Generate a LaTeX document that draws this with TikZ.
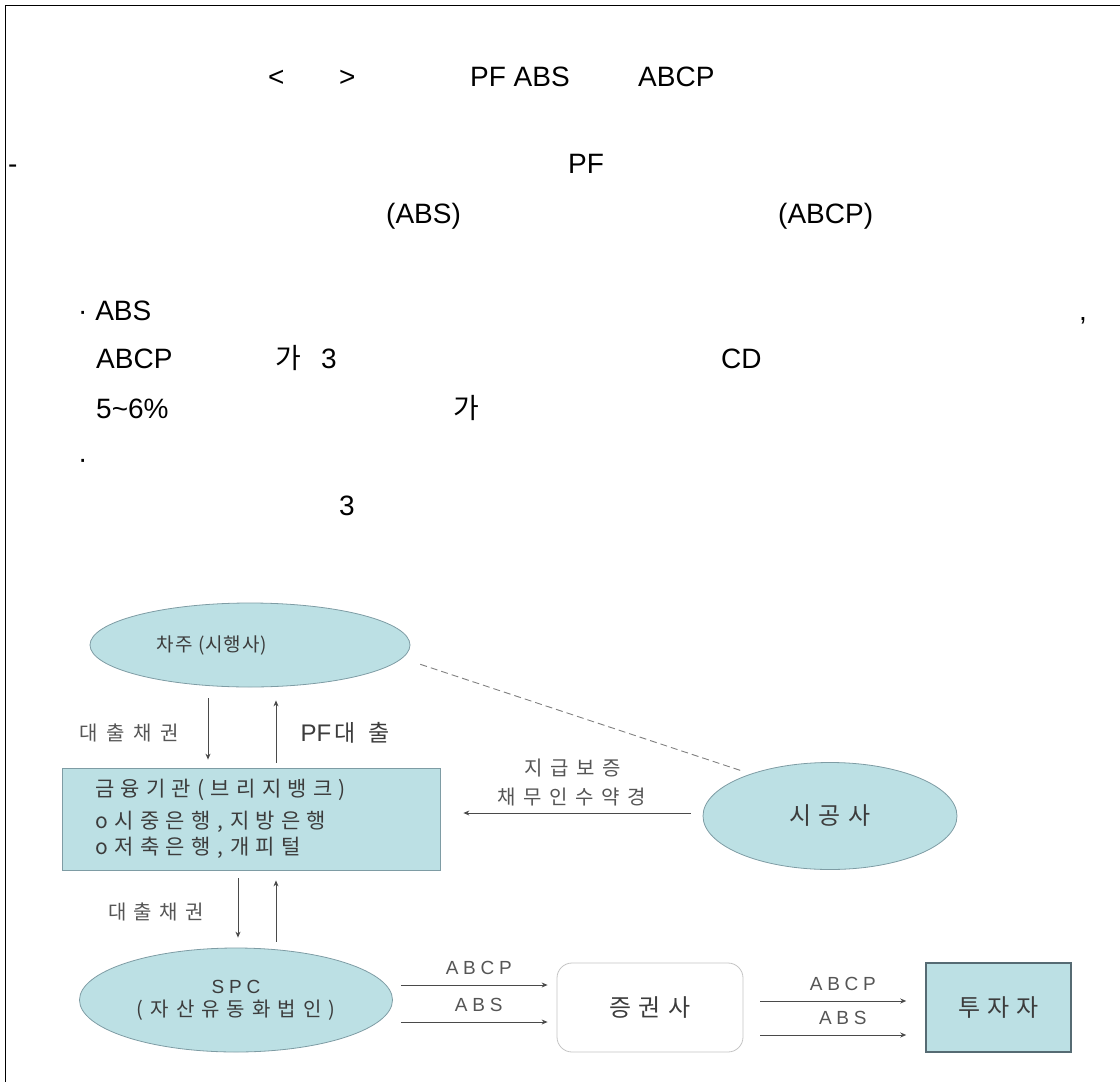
\documentclass[tikz,border=0pt]{standalone}
\usepackage{fontspec}
\setmainfont{Liberation Sans}
\newfontfamily\krfont{Noto Sans CJK KR}
\usetikzlibrary{positioning, shapes.geometric, arrows.meta, calc}

\definecolor{boxfill}{HTML}{BCE0E4}
\definecolor{boxline}{HTML}{7E9CA4}
\definecolor{darkline}{HTML}{566B73}
\definecolor{secline}{HTML}{C4C4C4}
\definecolor{textgray}{HTML}{3C3C3C}
\definecolor{labelgray}{HTML}{555555}
\definecolor{arrowgray}{HTML}{4A4A4A}
\definecolor{dashgray}{HTML}{808080}

% letter-spaced text: size, spacing
\newcommand{\krsp}[2]{\krfont\fontsize{#1}{#1}\selectfont\addfontfeature{LetterSpace=#2}}
\newcommand{\ltsp}[2]{\fontsize{#1}{#1}\selectfont\addfontfeature{LetterSpace=#2}}

\begin{document}
\begin{tikzpicture}[
            x=1pt, y=-1pt,
            txt/.style={anchor=base west, inner sep=0pt, font=\fontsize{28}{34}\selectfont},
            oval/.style={ellipse, draw=boxline, fill=boxfill, line width=0.8pt, inner sep=0pt, text=textgray},
            box/.style={rectangle, draw=boxline, fill=boxfill, line width=0.8pt, inner sep=0pt, text=textgray},
            klbl/.style={inner sep=0pt, text=labelgray},
            llbl/.style={inner sep=0pt, text=labelgray, font={\ltsp{19}{25}}},
            arrow/.style={-{Stealth[length=6pt, width=5pt]}, draw=arrowgray, line width=0.9pt},
            dashline/.style={draw=dashgray, line width=0.9pt, dash pattern=on 7pt off 4pt}
        ]
        \useasboundingbox (0,0) rectangle (1120,1082);

        % Frame
        \draw[line width=1.5pt] (5.5,1082) -- (5.5,5.5) -- (1120,5.5);

        % Text above the diagram
        \node[txt] (title1) at (268,86) {<};
        \node[txt] (title2) at (339,86) {>};
        \node[txt] (title3) at (470,86) {PF ABS};
        \node[txt] (title4) at (638,86) {ABCP};
        \node[txt] (dash1) at (8,173) {-};
        \node[txt] (dash2) at (568,173) {PF};
        \node[txt] (dash3) at (386,223) {(ABS)};
        \node[txt] (dash4) at (778,223) {(ABCP)};
        \node[txt] (item1) at (78,320) {· ABS};
        \node[txt] (item2) at (1079,320) {,};
        \node[txt] (item3) at (96,368) {ABCP};
        \node[txt] (item4) at (275,368) {\krfont 가};
        \node[txt] (item5) at (321,368) {3};
        \node[txt] (item6) at (721,368) {CD};
        \node[txt] (item7) at (96,418) {5\textasciitilde 6\%};
        \node[txt] (item8) at (453,418) {\krfont 가};
        \node[txt] (item9) at (78,468) {·};
        \node[txt] (item10) at (339,515) {3};

        % Nodes
        \node[oval, minimum width=320pt, minimum height=84pt,
              label={[klbl, text=textgray, font={\krsp{19}{5}}, xshift=-38pt]center:차주 (시행사)}] (Borrower) at (250,645) {};
        \node[box, minimum width=378pt, minimum height=102pt, text width=312pt, inner xsep=33pt,
              align=left, font={\krsp{21}{30}}] (Bank) at (251,819)
              {금융기관(브리지뱅크)\\[9pt]o 시중은행, 지방은행\\[4pt]o 저축은행, 개피털};
        \node[oval, minimum width=254pt, minimum height=107pt, font={\krsp{24}{30}}] (Contractor) at (830,816) {시공사};
        \node[oval, minimum width=313pt, minimum height=104pt, align=center,
              font=\fontsize{17}{23}\selectfont] (SPC) at (236,1000)
              {{\ltsp{19}{25}SPC}\\{\krsp{20}{35}(자산유동화법인)}};
        \node[rectangle, draw=secline, line width=0.8pt, rounded corners=15pt, minimum width=186pt,
              minimum height=89pt, text=textgray, font={\krsp{24}{30}}] (Broker) at (650,1007.5) {증권사};
        \node[box, draw=darkline, line width=1.5pt, minimum width=145pt, minimum height=89pt,
              font={\krsp{24}{30}}] (Investor) at (998.5,1007.5) {투자자};

        % Labels
        \node[klbl, font={\krsp{20}{43}}] (claimA) at (129,733) {대출채권};
        \node[klbl, text=textgray] (pfloan) at (345,733)
              {{\fontsize{24}{24}\selectfont PF}\hspace{3pt}{\krsp{23}{56}대출}};
        \node[klbl, font={\krsp{20}{38}}] (guarantee) at (573,768) {지급보증};
        \node[klbl, font={\krsp{20}{38}}] (assume) at (572,797) {채무인수약경};
        \node[klbl, font={\krsp{20}{37}}] (claimB) at (156,912) {대출채권};

        % Arrow points
        \coordinate (bk1) at ($(Bank.north)+(-43,0)$);
        \coordinate (bk2) at ($(Bank.north)+(25,0)$);
        \coordinate (bk3) at ($(Bank.south)+(-13,0)$);
        \coordinate (bk4) at ($(Bank.south)+(25,0)$);
        \coordinate (cw) at ($(Contractor.west)+(0,-3)$);
        \coordinate (sp1) at ($(SPC.east)+(8,-15)$);
        \coordinate (sp2) at ($(SPC.east)+(8,22)$);
        \coordinate (br1) at ($(Broker.east)+(17,-6.5)$);
        \coordinate (br2) at ($(Broker.east)+(17,27.5)$);

        % Arrows
        \draw[arrow, shorten <=11pt, shorten >=8pt] (bk1 |- Borrower.south) -- (bk1);
        \draw[arrow, shorten <=5pt, shorten >=13pt] (bk2) -- (bk2 |- Borrower.south);
        \draw[arrow, shorten <=8pt, shorten >=10pt] (bk3) -- (bk3 |- SPC.north);
        \draw[arrow, shorten <=6pt, shorten >=10pt] (bk4 |- SPC.north) -- (bk4);
        \draw[arrow, shorten <=12pt, shorten >=23pt] (cw) -- (cw -| Bank.east);
        \draw[dashline, shorten <=19pt, shorten >=8pt] (Borrower.-5) -- (Contractor.152);
        \draw[arrow, shorten >=9pt] (sp1) -- node[llbl, above=10pt] {ABCP} (sp1 -| Broker.west);
        \draw[arrow, shorten >=9pt] (sp2) -- node[llbl, above=10pt] {ABS} (sp2 -| Broker.west);
        \draw[arrow, shorten >=19pt] (br1) -- node[llbl, above=10pt] {ABCP} (br1 -| Investor.west);
        \draw[arrow, shorten >=19pt] (br2) -- node[llbl, above=10pt] {ABS} (br2 -| Investor.west);

        \end{tikzpicture}
\end{document}
